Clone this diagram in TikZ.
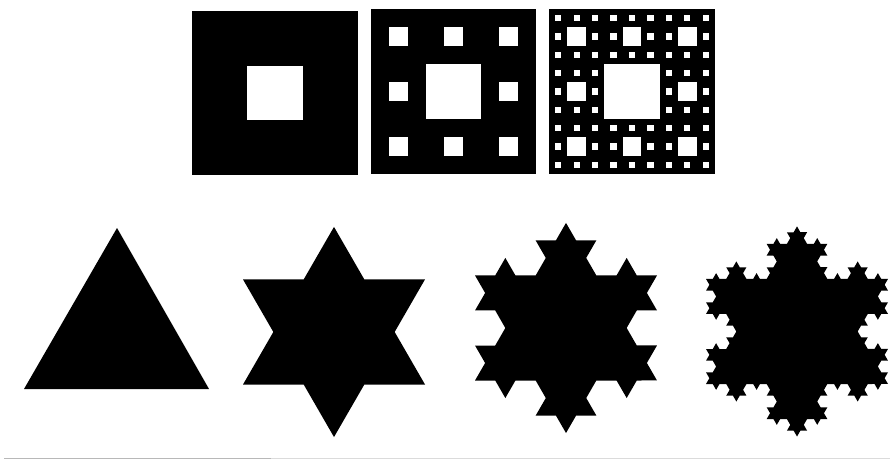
\documentclass[tikz,border=0pt]{standalone}
\usetikzlibrary{decorations.fractals}
\tikzset{
  carpet/.style={fill=black},
  hole/.style={fill=white},
  flake/.style={fill=black, decoration=Koch snowflake},
  baseline rule/.style={draw=black!28, line width=1pt},
  faint rule/.style={draw=black!14, line width=0.8pt}
}
\newcommand\sierpholes[5]{% #1 = 3^k, #2 x0, #3 y0, #4 W, #5 H
  \pgfmathtruncatemacro\sierpm{#1/3-1}
  \foreach \a in {0,...,\sierpm}{
    \foreach \b in {0,...,\sierpm}{
      \fill[hole] ({#2+(3*\a+1)*#4/#1},{#3+(3*\b+1)*#5/#1}) rectangle ++({#4/#1},{#5/#1});
    }
  }
}
\begin{document}
\begin{tikzpicture}[x=1pt,y=-1pt]
\useasboundingbox[fill=white] (0,0) rectangle (890,460);

% Sierpinski carpets
\fill[carpet] (192,11) rectangle ++(166,164);
\sierpholes{3}{192}{11}{166}{164}

\fill[carpet] (371,9) rectangle ++(165,165);
\sierpholes{3}{371}{9}{165}{165}
\sierpholes{9}{371}{9}{165}{165}

\fill[carpet] (549,9) rectangle ++(166,165);
\sierpholes{3}{549}{9}{166}{165}
\sierpholes{9}{549}{9}{166}{165}
\sierpholes{27}{549}{9}{166}{165}

% Koch snowflakes
\coordinate (t0a) at (117,228);
\coordinate (t0b) at (24,389);
\coordinate (t0c) at (209,389);
\fill[flake] (t0a) -- (t0c) -- (t0b) -- cycle;

\coordinate (t1a) at (334,226.9);
\coordinate (t1b) at (243,384.5);
\coordinate (t1c) at (425,384.5);
\fill[flake] decorate{ (t1a) -- (t1c) -- (t1b) -- (t1a) };

\coordinate (t2a) at (566,222.9);
\coordinate (t2b) at (475,380.5);
\coordinate (t2c) at (657,380.5);
\fill[flake] decorate{ decorate{ (t2a) -- (t2c) -- (t2b) -- (t2a) }};

\coordinate (t3a) at (797,226.4);
\coordinate (t3b) at (706,384.0);
\coordinate (t3c) at (888,384.0);
\fill[flake] decorate{ decorate{ decorate{ (t3a) -- (t3c) -- (t3b) -- (t3a) }}};

% faint rules at the bottom edge
\coordinate (r0) at (4,458.5);
\coordinate (r1) at (271,458.5);
\coordinate (r2) at (890,458.5);
\draw[faint rule] (r1) -- (r2);
\draw[baseline rule] (r0) -- (r1);
\end{tikzpicture}
\end{document}
